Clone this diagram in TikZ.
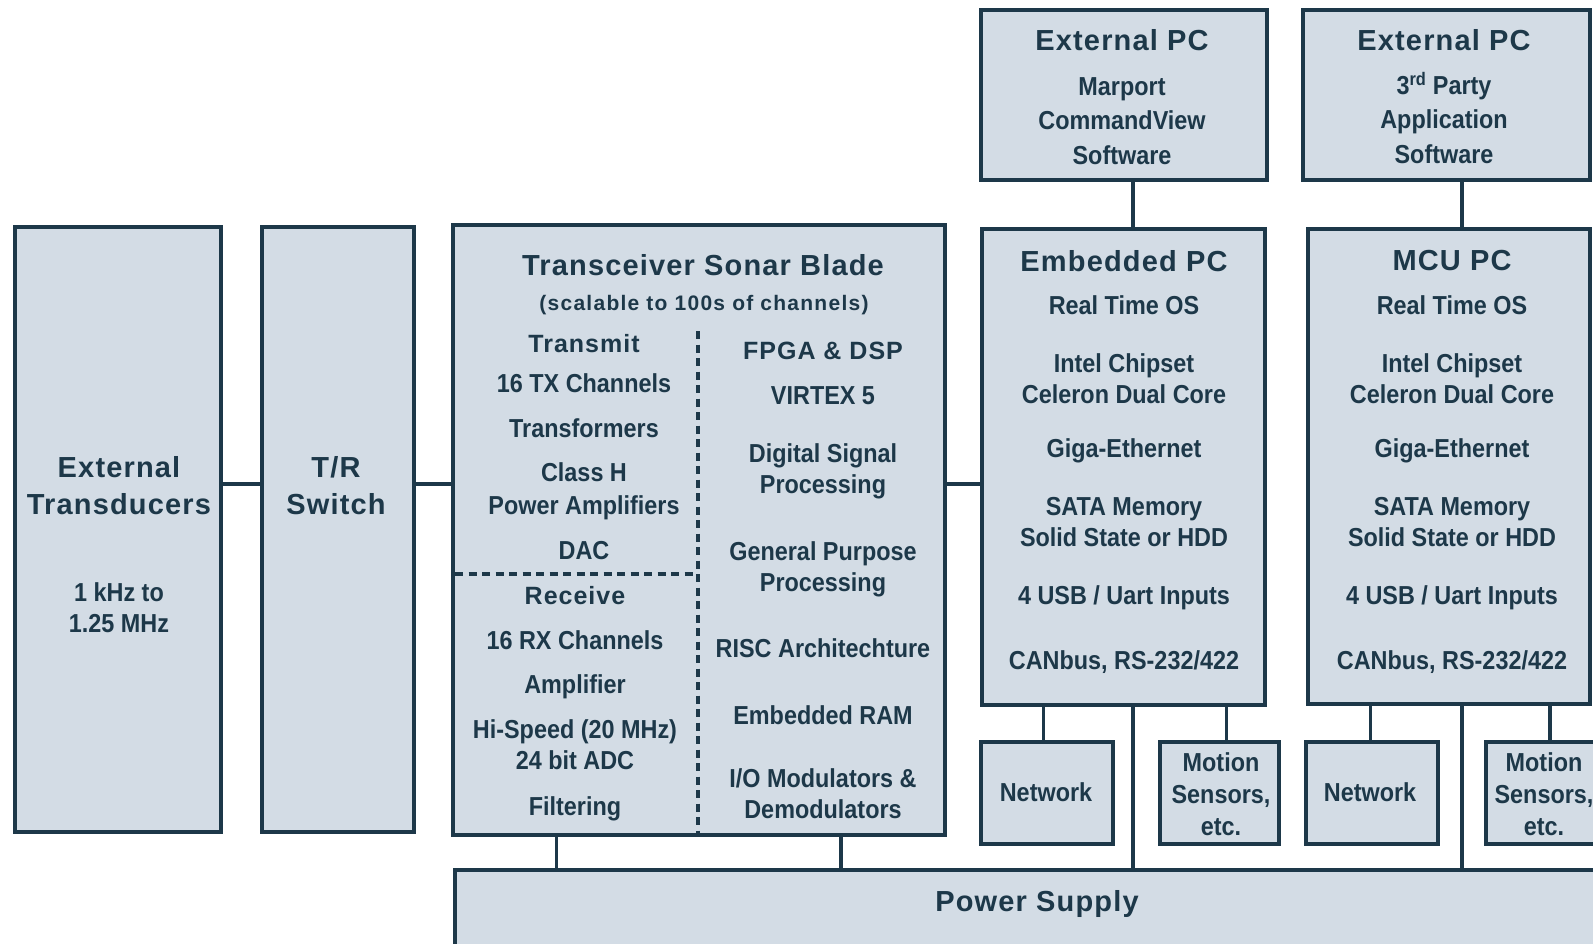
\documentclass[tikz,border=0pt]{standalone}
\usepackage{fontspec}
\setmainfont{Liberation Sans}
\newfontfamily\headfont[LetterSpace=4]{Liberation Sans}
\newfontfamily\notefont[LetterSpace=6]{Liberation Sans}
\newfontfamily\bodyfont[FakeStretch=0.9]{Liberation Sans}
\definecolor{fillc}{HTML}{D3DCE5}
\definecolor{ink}{HTML}{1D3849}
\tikzset{
  box/.style={draw=ink, fill=fillc, line width=4pt, rectangle, inner sep=0pt, outer sep=0pt, anchor=north west},
  conn/.style={draw=ink, line width=3.5pt},
  divider/.style={draw=ink, line width=3.5pt, dash pattern=on 8pt off 5.5pt},
  head/.style={text=ink, font=\headfont\bfseries\fontsize{29}{37}\selectfont, align=center, inner sep=0pt},
  subhead/.style={text=ink, font=\headfont\bfseries\fontsize{25}{30}\selectfont, align=center, inner sep=0pt},
  note/.style={text=ink, font=\notefont\bfseries\fontsize{21}{24}\selectfont, align=center, inner sep=0pt},
  body/.style={text=ink, font=\bodyfont\bfseries\fontsize{26}{31}\selectfont, align=center, inner sep=0pt},
  bodywide/.style={body, font=\bodyfont\bfseries\fontsize{26}{33}\selectfont},
  bodyep/.style={body, font=\bodyfont\bfseries\fontsize{26}{34.5}\selectfont},
  bodymot/.style={body, font=\bodyfont\bfseries\fontsize{26}{32}\selectfont},
}
\begin{document}
\begin{tikzpicture}[x=1pt, y=-1pt]
\useasboundingbox (0,0) rectangle (1593,944);
\clip (0,0) rectangle (1593,944);

% boxes
\node[box, minimum width=206pt, minimum height=605pt] (et) at (15,227) {};
\node[box, minimum width=151.5pt, minimum height=605pt] (tr) at (262,227) {};
\node[box, minimum width=492pt, minimum height=609pt] (tsb) at (453,225.5) {};
\node[box, minimum width=285.5pt, minimum height=170pt] (ep1) at (981,10.5) {};
\node[box, minimum width=287pt, minimum height=170pt] (ep2) at (1303,10.5) {};
\node[box, minimum width=283pt, minimum height=475pt] (emb) at (982,229.5) {};
\node[box, minimum width=282pt, minimum height=475pt] (mcu) at (1308,229) {};
\node[box, minimum width=131.5pt, minimum height=102pt] (net1) at (981,741.5) {};
\node[box, minimum width=119pt, minimum height=102pt] (mot1) at (1160,741.5) {};
\node[box, minimum width=132pt, minimum height=102pt] (net2) at (1306,741.5) {};
\node[box, minimum width=119pt, minimum height=102pt] (mot2) at (1485.5,741.5) {};
\node[box, minimum width=1200pt, minimum height=200pt] (ps) at (454.5,870) {};

% reference coordinates for connector positions
\coordinate (yl) at (0,484);
\coordinate (xa) at (556.7,0);
\coordinate (xb) at (841,0);
\coordinate (xc) at (1133,0);
\coordinate (xn1) at (1043.5,0);
\coordinate (xm1) at (1226.5,0);
\coordinate (xd) at (1462,0);
\coordinate (xn2) at (1370.5,0);
\coordinate (xm2) at (1550,0);

% connectors
\draw[conn] (et.east |- yl) -- (tr.west |- yl);
\draw[conn] (tr.east |- yl) -- (tsb.west |- yl);
\draw[conn] (tsb.east |- yl) -- (emb.west |- yl);
\draw[conn] (tsb.south -| xa) -- (ps.north -| xa);
\draw[conn] (tsb.south -| xb) -- (ps.north -| xb);
\draw[conn] (ep1.south -| xc) -- (emb.north -| xc);
\draw[conn] (emb.south -| xc) -- (ps.north -| xc);
\draw[conn] (emb.south -| xn1) -- (net1.north -| xn1);
\draw[conn] (emb.south -| xm1) -- (mot1.north -| xm1);
\draw[conn] (ep2.south -| xd) -- (mcu.north -| xd);
\draw[conn] (mcu.south -| xd) -- (ps.north -| xd);
\draw[conn] (mcu.south -| xn2) -- (net2.north -| xn2);
\draw[conn] (mcu.south -| xm2) -- (mot2.north -| xm2);

% dividers inside the transceiver blade
\coordinate (dvt) at (698,331);
\draw[divider] (dvt) -- (tsb.south -| dvt);
\coordinate (dhl) at (455,574);
\coordinate (dhr) at (694,574);
\draw[divider] (dhl) -- (dhr);

% External Transducers
\node[head] (etH) at (119,485.5) {External\\Transducers};
\node[body] (etB) at (119,607.5) {1 kHz to\\1.25 MHz};
% T/R switch
\node[head] (trH) at (336,485.5) {T/R\\Switch};

% Transceiver Sonar Blade
\node[head] (tsbH) at (703,265) {Transceiver Sonar Blade};
\node[note] (tsbN) at (704,305) {(scalable to 100s of channels)};
\node[subhead] (txH) at (584,344) {Transmit};
\node[body] (tx1) at (584,383) {16 TX Channels};
\node[body] (tx2) at (584,428) {Transformers};
\node[bodywide] (tx3) at (584,491.5) {Class H\\Power Amplifiers};
\node[body] (tx4) at (584,551) {DAC};
\node[subhead] (rxH) at (575,596) {Receive};
\node[body] (rx1) at (575,640) {16 RX Channels};
\node[body] (rx2) at (575,687) {Amplifier};
\node[body] (rx3) at (575,745) {Hi-Speed (20 MHz)\\24 bit ADC};
\node[body] (rx4) at (575,809) {Filtering};
\node[subhead] (fpH) at (823,351) {FPGA \& DSP};
\node[body] (fp1) at (823,396) {VIRTEX 5};
\node[body] (fp2) at (823,471) {Digital Signal\\Processing};
\node[body] (fp3) at (823,569.5) {General Purpose\\Processing};
\node[body] (fp4) at (823,648) {RISC Architechture};
\node[body] (fp5) at (823,715) {Embedded RAM};
\node[body] (fp6) at (823,794) {I/O Modulators \&\\Demodulators};

% Embedded PC
\node[head] (embH) at (1124,261) {Embedded PC};
\node[body] (emb1) at (1124,305) {Real Time OS};
\node[body] (emb2) at (1124,379) {Intel Chipset\\Celeron Dual Core};
\node[body] (emb3) at (1124,451) {Giga-Ethernet};
\node[body] (emb4) at (1124,522.5) {SATA Memory\\Solid State or HDD};
\node[body] (emb5) at (1124,598) {4 USB / Uart Inputs};
\node[body] (emb6) at (1124,662) {CANbus, RS-232/422};

% MCU PC
\node[head] (mcuH) at (1452,261) {MCU PC};
\node[body] (mcu1) at (1452,305) {Real Time OS};
\node[body] (mcu2) at (1452,379) {Intel Chipset\\Celeron Dual Core};
\node[body] (mcu3) at (1452,451) {Giga-Ethernet};
\node[body] (mcu4) at (1452,522.5) {SATA Memory\\Solid State or HDD};
\node[body] (mcu5) at (1452,598) {4 USB / Uart Inputs};
\node[body] (mcu6) at (1452,662) {CANbus, RS-232/422};

% External PCs
\node[head] (ep1H) at (1122,40) {External PC};
\node[bodyep] (ep1B) at (1122,121) {Marport\\CommandView\\Software};
\node[head] (ep2H) at (1444,40) {External PC};
\node[bodyep] (ep2B) at (1444,118) {3\textsuperscript{rd} Party\\Application\\Software};

% small boxes
\node[body] (net1T) at (1046,792) {Network};
\node[body] (net2T) at (1370,792) {Network};
\node[bodymot] (mot1T) at (1221,794) {Motion\\Sensors,\\etc.};
\node[bodymot] (mot2T) at (1544,794) {Motion\\Sensors,\\etc.};

% power supply
\node[head] (psT) at (1037,904) {Power Supply};
\end{tikzpicture}
\end{document}
